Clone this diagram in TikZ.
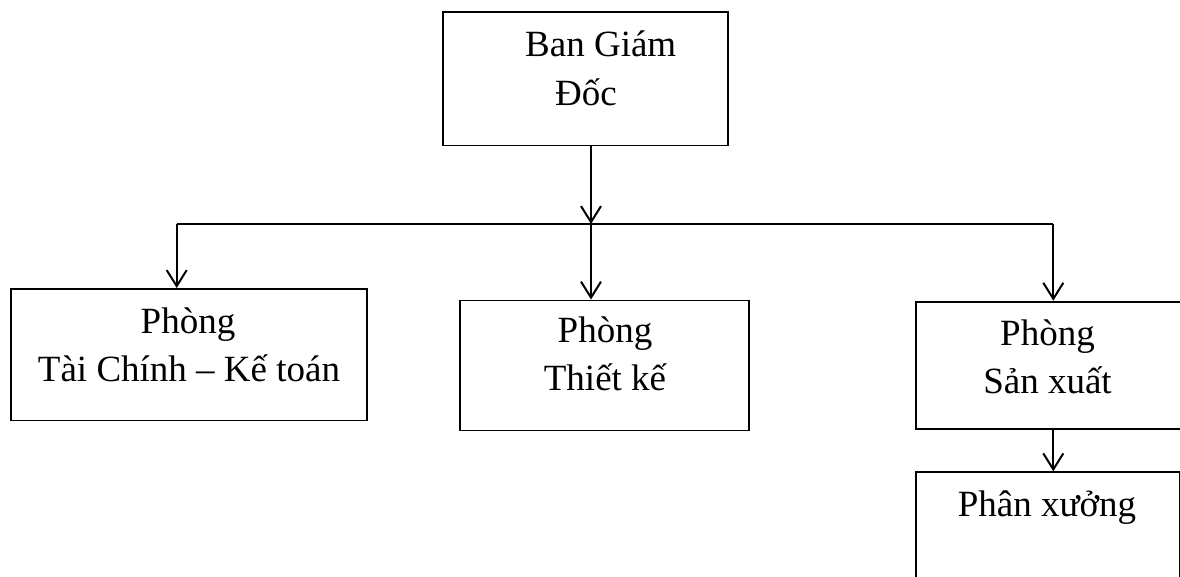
\documentclass[tikz,border=0pt]{standalone}
\usepackage{fontspec}
\setmainfont{Liberation Serif}
\usetikzlibrary{arrows.meta}
\begin{document}
\begin{tikzpicture}[x=1pt,y=-1pt,
  box/.style={draw, line width=1.8pt, inner sep=0pt, anchor=north west},
  txt/.style={inner sep=0pt, anchor=base, font=\fontsize{37}{44}\selectfont},
  wire/.style={line width=2pt},
  link/.style={wire, -{Straight Barb[length=16pt,width=20pt,line width=2pt]}}]
\useasboundingbox (0,0) rectangle (1180,576);

% department boxes
\node[box, minimum width=285pt, minimum height=133.5pt] (bgd) at (442,11) {};
\node[box, minimum width=356pt, minimum height=131.5pt] (tckt) at (10,288) {};
\node[box, minimum width=289pt, minimum height=130pt] (tk) at (459,299.5) {};
\node[box, minimum width=267pt, minimum height=127.6pt] (sx) at (915,300.7) {};
\node[box, minimum width=264.3pt, minimum height=130pt] (px) at (915,471.3) {};

% labels
\node[txt, anchor=base west] (t1a) at (525,56) {Ban Giám};
\node[txt, anchor=base west] (t1b) at (555,105) {Đốc};
\node[txt] (t2a) at (188,333) {Phòng};
\node[txt] (t2b) at (189,381) {Tài Chính – Kế toán};
\node[txt] (t3a) at (605,342) {Phòng};
\node[txt] (t3b) at (605,390) {Thiết kế};
\node[txt] (t4a) at (1047.5,345) {Phòng};
\node[txt] (t4b) at (1047.5,393) {Sản xuất};
\node[txt] (t5) at (1047,516) {Phân xưởng};

% connectors
\coordinate (hub) at (591,224);
\coordinate (jl) at (176.7,224);
\coordinate (jr) at (1053.3,224);
\draw[link] (bgd.south -| hub) -- (hub);
\draw[wire] (jl) -- (jr);
\draw[link] (jl) -- (jl |- tckt.north);
\draw[link] (hub) -- (hub |- tk.north);
\draw[link] (jr) -- (jr |- sx.north);
\draw[link] (sx.south -| jr) -- (jr |- px.north);
\end{tikzpicture}
\end{document}
